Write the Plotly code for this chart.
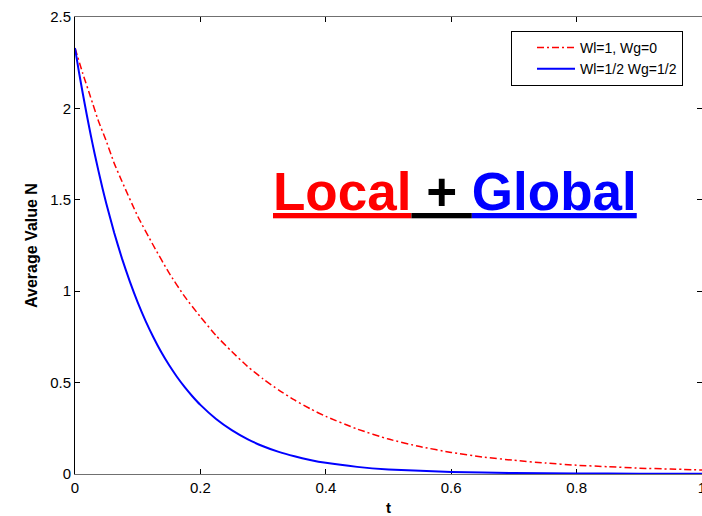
import plotly.graph_objects as go

# Red curve: Wl=1, Wg=0
t_red = [0, 0.0125, 0.025, 0.0375, 0.05, 0.0625, 0.075, 0.1, 0.125, 0.15, 0.175, 0.2,
         0.225, 0.25, 0.275, 0.3, 0.325, 0.35, 0.375, 0.4, 0.45, 0.5, 0.55, 0.6, 0.65,
         0.7, 0.75, 0.8, 0.85, 0.9, 0.95, 1.0]
n_red = [2.33, 2.19, 2.06, 1.93, 1.82, 1.70, 1.60, 1.41, 1.25, 1.10, 0.97, 0.86,
         0.757, 0.67, 0.589, 0.52, 0.459, 0.405, 0.357, 0.315, 0.246, 0.191, 0.150,
         0.118, 0.093, 0.075, 0.060, 0.048, 0.040, 0.032, 0.027, 0.022]

# Blue curve: Wl=1/2 Wg=1/2
t_blue = [0, 0.00625, 0.0125, 0.01875, 0.025, 0.03125, 0.0375, 0.04375, 0.05, 0.0625,
          0.075, 0.0875, 0.1, 0.1125, 0.125, 0.1375, 0.15, 0.1625, 0.175, 0.1875, 0.2,
          0.225, 0.25, 0.275, 0.3, 0.325, 0.35, 0.375, 0.4, 0.45, 0.5, 0.6, 0.7, 0.8,
          0.9, 1.0]
n_blue = [2.33, 2.20, 2.08, 1.965, 1.856, 1.753, 1.657, 1.565, 1.479, 1.320,
          1.178, 1.052, 0.939, 0.838, 0.748, 0.667, 0.596, 0.532, 0.475, 0.424, 0.378,
          0.301, 0.240, 0.191, 0.152, 0.121, 0.097, 0.077, 0.061, 0.039, 0.025, 0.011,
          0.005, 0.003, 0.002, 0.001]

x_ticks = [0, 0.2, 0.4, 0.6, 0.8, 1]
x_labels = ["0", "0.2", "0.4", "0.6", "0.8", "1"]
y_ticks = [0, 0.5, 1, 1.5, 2, 2.5]
y_labels = ["0", "0.5", "1", "1.5", "2", "2.5"]

FONT = "Liberation Sans, Arial, sans-serif"

fig = go.Figure()
fig.add_trace(go.Scatter(x=t_red, y=n_red, mode="lines", name="Wl=1, Wg=0",
                         line=dict(color="#ff0000", width=1.5, dash="7px,3px,2px,3px",
                                   shape="spline", smoothing=0.5)))
fig.add_trace(go.Scatter(x=t_blue, y=n_blue, mode="lines", name="Wl=1/2 Wg=1/2",
                         line=dict(color="#0000ff", width=2, shape="spline", smoothing=0.5)))

fig.add_annotation(
    x=0.606, xref="paper", y=1.548, yref="y",
    text="<span style='color:#ff0000'><u>Local</u></span><u> + </u><span style='color:#0000ff'><u>Global</u></span>",
    showarrow=False, xanchor="center", yanchor="middle",
    font=dict(family=FONT, size=53, color="black", weight="bold"),
)

fig.update_layout(
    template="none",
    width=702, height=516,
    margin=dict(l=75, r=0, t=17, b=42),
    paper_bgcolor="white", plot_bgcolor="white",
    showlegend=True,
    legend=dict(x=(511 - 75) / 627, y=(474 - 31) / 457, xanchor="left", yanchor="top",
                bgcolor="white", bordercolor="black", borderwidth=1,
                font=dict(family=FONT, size=14, color="black"),
                indentation=20, itemwidth=38, tracegroupgap=0),
    font=dict(family=FONT, size=15, color="black"),
)
fig.update_xaxes(
    range=[0, 1], tickvals=x_ticks, ticktext=x_labels,
    ticks="inside", ticklen=5, tickcolor="black", mirror="ticks",
    showline=True, linecolor="#707070", linewidth=1, showgrid=False, zeroline=False,
    automargin=False, layer="below traces", ticklabeloverflow="allow",
    title=dict(text="<b>t</b>", font=dict(family=FONT, size=15), standoff=9),
    tickfont=dict(family=FONT, size=15),
)
fig.update_yaxes(
    range=[0, 2.5], tickvals=y_ticks, ticktext=y_labels,
    ticks="inside", ticklen=5, tickcolor="black", mirror="ticks",
    showline=True, linecolor="black", linewidth=1, showgrid=False, zeroline=False,
    automargin=False, layer="below traces",
    title=dict(text="<b>Average Value N</b>", font=dict(family=FONT, size=16), standoff=8),
    tickfont=dict(family=FONT, size=15),
)

fig.write_html("out.html", config={"displayModeBar": False},
               post_script="document.body.style.margin='0';document.body.style.overflow='hidden';")
